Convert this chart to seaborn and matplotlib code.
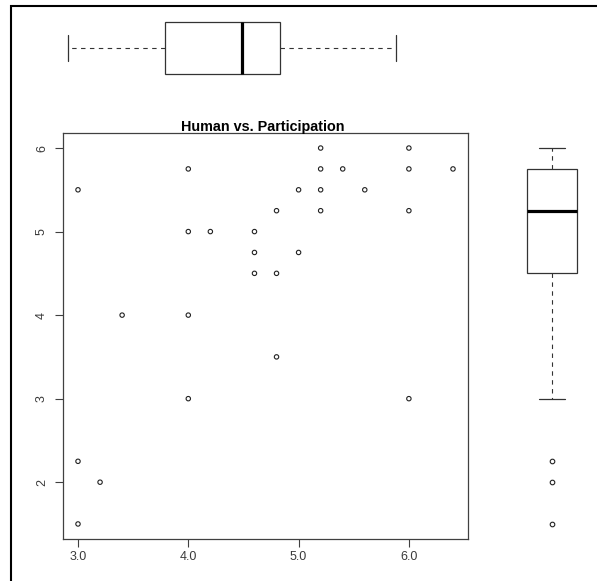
import matplotlib
matplotlib.use("Agg")
import matplotlib.pyplot as plt
import seaborn as sns
import pandas as pd
from matplotlib.patches import Rectangle

# ---- data (some points overlap exactly) ----
participation = [3.0, 3.0, 3.0, 3.2, 3.4, 4.0, 4.0, 4.0, 4.0, 4.0, 4.2,
                 4.6, 4.6, 4.6, 4.8, 4.8, 4.8, 5.0, 5.0,
                 5.2, 5.2, 5.2, 5.2, 5.2, 5.2, 5.4, 5.6,
                 6.0, 6.0, 6.0, 6.0, 6.0, 6.4]
human = [5.5, 2.25, 1.5, 2.0, 4.0, 5.75, 5.75, 5.0, 4.0, 3.0, 5.0,
         5.0, 4.75, 4.5, 5.25, 4.5, 3.5, 5.5, 4.75,
         6.0, 6.0, 5.75, 5.75, 5.5, 5.25, 5.75, 5.5,
         6.0, 5.75, 5.75, 5.25, 3.0, 5.75]
title = "Human vs. Participation"
x_ticks = [3.0, 4.0, 5.0, 6.0]
x_tick_labels = ["3.0", "4.0", "5.0", "6.0"]
y_ticks = [2, 3, 4, 5, 6]
y_tick_labels = ["2", "3", "4", "5", "6"]

df = pd.DataFrame({"Participation": participation, "Human": human})

sns.set_style("white")
plt.rcParams["font.family"] = ["Liberation Sans", "DejaVu Sans"]

W, H = 597, 581
fig = plt.figure(figsize=(W / 100, H / 100), dpi=100)


def rect(l, t, r, b):
    return [l / W, 1 - b / H, (r - l) / W, (b - t) / H]


def rlim(v):
    lo, hi = min(v), max(v)
    d = (hi - lo) * 0.04
    return lo - d, hi + d


ax = fig.add_axes(rect(63, 133, 468, 539))
ax_top = fig.add_axes(rect(55, 10, 409, 86))
ax_right = fig.add_axes(rect(510, 133, 594, 539))

LC = "#333333"

# ---- scatter (coincident points drawn once, as they overlap exactly) ----
sns.scatterplot(data=df.drop_duplicates(), x="Participation", y="Human", ax=ax,
                marker="o", s=10, facecolor="none", edgecolor="#222222",
                linewidth=0.8)
ax.set_xlim(*rlim(participation))
ax.set_ylim(*rlim(human))
ax.set_xticks(x_ticks)
ax.set_xticklabels(x_tick_labels)
ax.set_yticks(y_ticks)
ax.set_yticklabels(y_tick_labels, rotation=90, va="center")
ax.set_xlabel("")
ax.set_ylabel("")
for s in ax.spines.values():
    s.set_visible(True)
    s.set_color("#404040")
    s.set_linewidth(0.9)
ax.tick_params(axis="both", direction="out", length=5.8, width=0.8,
               color="#404040", labelsize=9, labelcolor="#3a3a3a",
               bottom=True, left=True)
ax.tick_params(axis="x", pad=3)
ax.tick_params(axis="y", pad=5)

# ---- top boxplot ----
box_kw = dict(color="white", linecolor=LC, linewidth=0.9, whis=1.5,
              medianprops=dict(color="black", linewidth=2.3),
              whiskerprops=dict(linestyle=(0, (4, 4)), linewidth=0.8, color=LC),
              capprops=dict(linewidth=0.9, color=LC),
              flierprops=dict(marker="o", markersize=3.3, markerfacecolor="none",
                              markeredgecolor="#222222", markeredgewidth=0.8))
sns.boxplot(x=df["Participation"], ax=ax_top, width=0.684, **box_kw)
ax_top.set_xlim(*rlim(participation))
ax_top.set_ylim(0.5, -0.5)
ax_top.axis("off")

# ---- right boxplot ----
sns.boxplot(y=df["Human"], ax=ax_right, width=0.607, **box_kw)
ax_right.set_ylim(*rlim(human))
ax_right.set_xlim(-0.5, 0.5)
ax_right.axis("off")

# ---- title & frame ----
fig.text(263 / W, 1 - 131 / H, title, ha="center", va="baseline",
         fontsize=10.4, fontweight="bold", color="black")
fig.patches.append(Rectangle((10.5 / W, -0.5), 1.2, (1 - 6.5 / H) + 0.5,
                             transform=fig.transFigure, fill=False,
                             lw=1.5, ec="black"))

fig.savefig("out.png", dpi=100)
